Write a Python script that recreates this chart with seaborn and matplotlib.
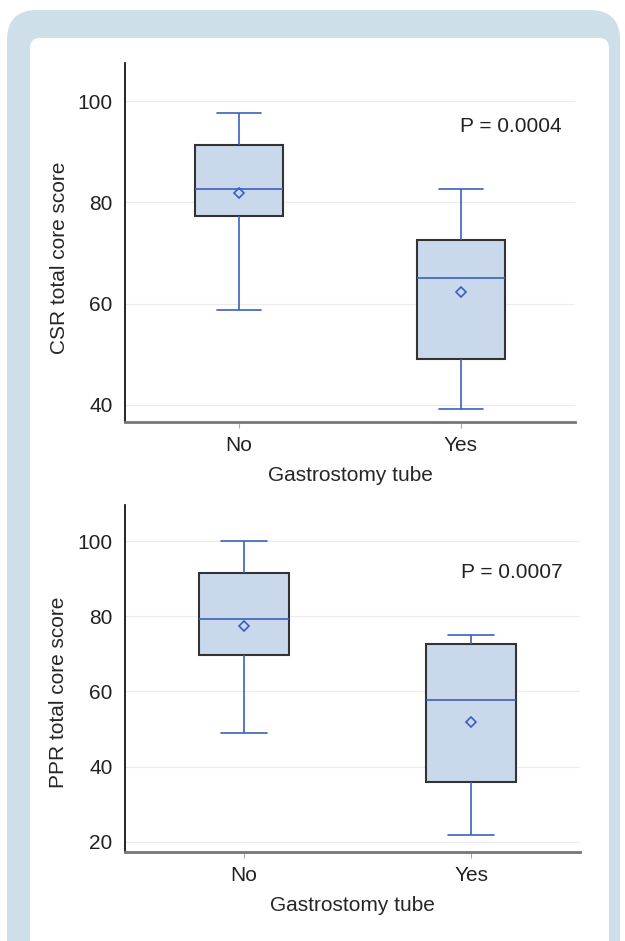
import numpy as np
import pandas as pd
import matplotlib.pyplot as plt
import seaborn as sns
from matplotlib.patches import FancyBboxPatch

#%% values (min, q1, median, q3, max) and group means
groups = ['No', 'Yes']
csr_no = [58.8, 77.2, 82.6, 91.3, 97.7]
csr_yes = [39.2, 49.0, 65.1, 72.6, 82.6]
csr_mean = [81.9, 62.2]
ppr_no = [49.0, 69.6, 79.4, 91.4, 100.0]
ppr_yes = [21.9, 36.0, 57.6, 72.6, 75.1]
ppr_mean = [77.3, 51.9]
csr_p = 'P = 0.0004'
ppr_p = 'P = 0.0007'

sns.set_style('white')
plt.rcParams['font.family'] = ['Liberation Sans', 'DejaVu Sans']
plt.rcParams['text.color'] = '#222222'

blue = '#3a60c2'
fill = '#c9d9eb'
edge = '#333333'

fig = plt.figure(figsize=(6.25, 9.41), dpi=100)
fig.patch.set_facecolor('white')

# frame drawn in pixel units
bg = fig.add_axes([0, 0, 1, 1])
bg.set_xlim(0, 625)
bg.set_ylim(941, 0)
bg.axis('off')
bg.add_patch(FancyBboxPatch((7, 10), 613, 1000, boxstyle='round,pad=0,rounding_size=30',
                            facecolor='#cfdfe9', edgecolor='none'))
bg.add_patch(FancyBboxPatch((30, 38), 579, 1000, boxstyle='round,pad=0,rounding_size=10',
                            facecolor='white', edgecolor='none'))


def panel(rect, no_vals, yes_vals, means, ylim, xlim, yticks, ylabel, ptext, px, py, ylab_y):
    ax = fig.add_axes(rect)
    df = pd.DataFrame({'group': ['No'] * len(no_vals) + ['Yes'] * len(yes_vals),
                       'score': no_vals + yes_vals})
    sns.boxplot(data=df, x='group', y='score', order=groups, ax=ax,
                whis=(0, 100), width=0.4, color=fill, saturation=1, linecolor=blue,
                linewidth=1.2, fliersize=0,
                boxprops={'edgecolor': edge, 'linewidth': 1.5},
                whiskerprops={'color': blue}, capprops={'color': blue},
                medianprops={'color': blue})
    sns.pointplot(x=groups, y=means, order=groups, ax=ax, linestyle='none',
                  markers='D', color=blue, markersize=5, markerfacecolor='none',
                  markeredgewidth=1.2, errorbar=None)
    ax.set_xlim(*xlim)
    ax.set_ylim(*ylim)
    ax.set_yticks(yticks)
    ax.set_axisbelow(True)
    ax.yaxis.grid(True, color='#ececec', linewidth=0.8)
    ax.xaxis.grid(False)
    sns.despine(ax=ax)
    ax.spines['left'].set_color('black')
    ax.spines['left'].set_linewidth(1.2)
    ax.spines['bottom'].set_color('#777777')
    ax.spines['bottom'].set_linewidth(2)
    ax.tick_params(axis='y', length=0, pad=9, labelsize=15, labelcolor='#222222')
    ax.tick_params(axis='x', length=4, color='#aaaaaa', pad=6, labelsize=15,
                   labelcolor='#222222', bottom=True)
    ax.set_xlabel('Gastrostomy tube', fontsize=15, labelpad=8)
    ax.set_ylabel(ylabel, fontsize=15)
    ax.yaxis.set_label_coords(-0.125, ylab_y)
    ax.text(px, py, ptext, fontsize=15, ha='center', va='center')
    return ax


panel([0.2, 0.5515, 0.72, 0.3815], csr_no, csr_yes, csr_mean,
      (36.6, 107.5), (-0.514, 1.514), [40, 60, 80, 100],
      'CSR total core score', csr_p, 1.225, 94.9, 0.457)
panel([0.2, 0.0946, 0.728, 0.3687], ppr_no, ppr_yes, ppr_mean,
      (17.3, 109.6), (-0.524, 1.48), [20, 40, 60, 80, 100],
      'PPR total core score', ppr_p, 1.18, 91.6, 0.461)

plt.savefig('out.png', dpi=100)
